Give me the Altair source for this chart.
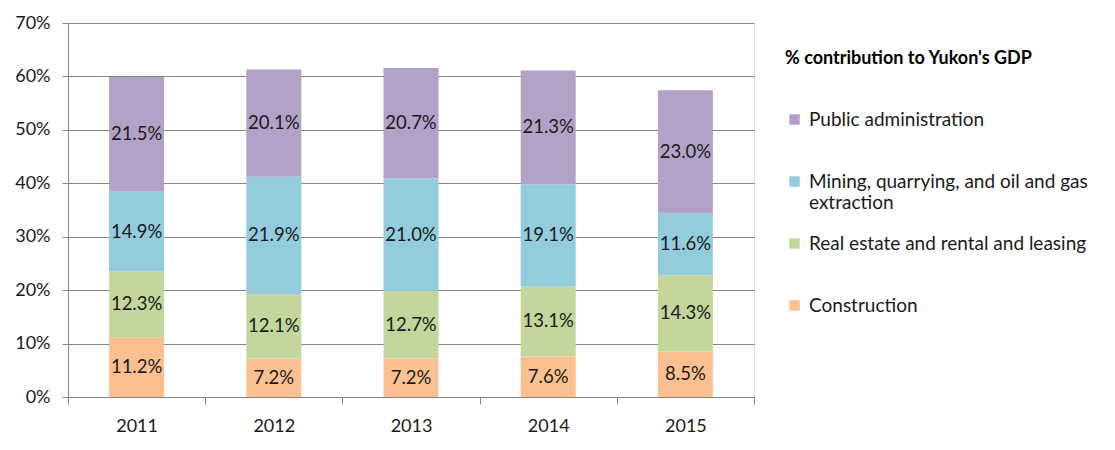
import altair as alt
import pandas as pd

years = ["2011", "2012", "2013", "2014", "2015"]
categories = ["Public administration", "Mining, quarrying, and oil and gas extraction",
              "Real estate and rental and leasing", "Construction"]
stack_order = {"Construction": 0, "Real estate and rental and leasing": 1,
               "Mining, quarrying, and oil and gas extraction": 2, "Public administration": 3}
construction = [11.2, 7.2, 7.2, 7.6, 8.5]
real_estate = [12.3, 12.1, 12.7, 13.1, 14.3]
mining = [14.9, 21.9, 21.0, 19.1, 11.6]
public_admin = [21.5, 20.1, 20.7, 21.3, 23.0]
colors = ["#B3A2C7", "#93CDDD", "#C3D69B", "#FAC090"]

series = {
    "Construction": construction,
    "Real estate and rental and leasing": real_estate,
    "Mining, quarrying, and oil and gas extraction": mining,
    "Public administration": public_admin,
}
rows = []
for cat, vals in series.items():
    for y, v in zip(years, vals):
        rows.append({"year": y, "category": cat, "value": v, "ord": stack_order[cat]})
df = pd.DataFrame(rows)

FONT = "Lato"

base = alt.Chart(df).transform_stack(
    stack="value", groupby=["year"], as_=["y0", "y1"],
    sort=[alt.SortField("ord", order="ascending")]
).transform_calculate(
    mid="(datum.y0 + datum.y1) / 2",
    lab="format(datum.value, '.1f') + '%'"
)

x_enc = alt.X("year:N", title=None, sort=years,
              scale=alt.Scale(paddingInner=0, paddingOuter=0),
              axis=alt.Axis(labelAngle=0, tickBand="extent", domainColor="#868686",
                            tickColor="#868686", tickSize=7, labelPadding=13,
                            labelFont=FONT, labelFontSize=18, labelColor="#1a1a1a"))

legend_expr = ("datum.label == 'Mining, quarrying, and oil and gas extraction' ? "
               "['Mining, quarrying, and oil and gas', 'extraction'] : [datum.label, '']")

bars = base.mark_bar(size=55).encode(
    x=x_enc,
    y=alt.Y("y0:Q", title=None,
            scale=alt.Scale(domain=[0, 70], nice=False),
            axis=alt.Axis(values=[0, 10, 20, 30, 40, 50, 60, 70],
                          labelExpr="datum.value + '%'", grid=True, gridColor="#868686",
                          domainColor="#868686", tickColor="#868686", tickSize=6,
                          labelPadding=12, labelFont=FONT, labelFontSize=18,
                          labelColor="#1a1a1a")),
    y2="y1:Q",
    color=alt.Color("category:N", sort=categories,
                    scale=alt.Scale(domain=categories, range=colors),
                    legend=alt.Legend(
                        title="% contribution to Yukon's GDP", orient="none",
                        legendX=717, legendY=27, titleFont=FONT, titleFontSize=18,
                        titleFontWeight="bold", titleColor="#000000", titlePadding=42,
                        titleLimit=400,
                        labelFont=FONT, labelFontSize=19, labelColor="#1a1a1a",
                        symbolType="square", symbolSize=110, symbolStrokeWidth=0,
                        rowPadding=21, labelOffset=5, labelLimit=400,
                        labelExpr=legend_expr)),
    order=alt.Order("ord:Q")
)

texts = base.mark_text(font=FONT, fontSize=18.5, color="#1a1a1a").encode(
    x=alt.X("year:N", sort=years),
    y=alt.Y("mid:Q"),
    text="lab:N"
)

chart = alt.layer(bars, texts).properties(
    width=686, height=374,
    autosize=alt.AutoSizeParams(type="none"),
    padding={"left": 60, "top": 15, "right": 353, "bottom": 45}
).configure_view(stroke=None).configure(background="white")

chart.save("out.html", embed_options={"renderer": "svg", "actions": False})
